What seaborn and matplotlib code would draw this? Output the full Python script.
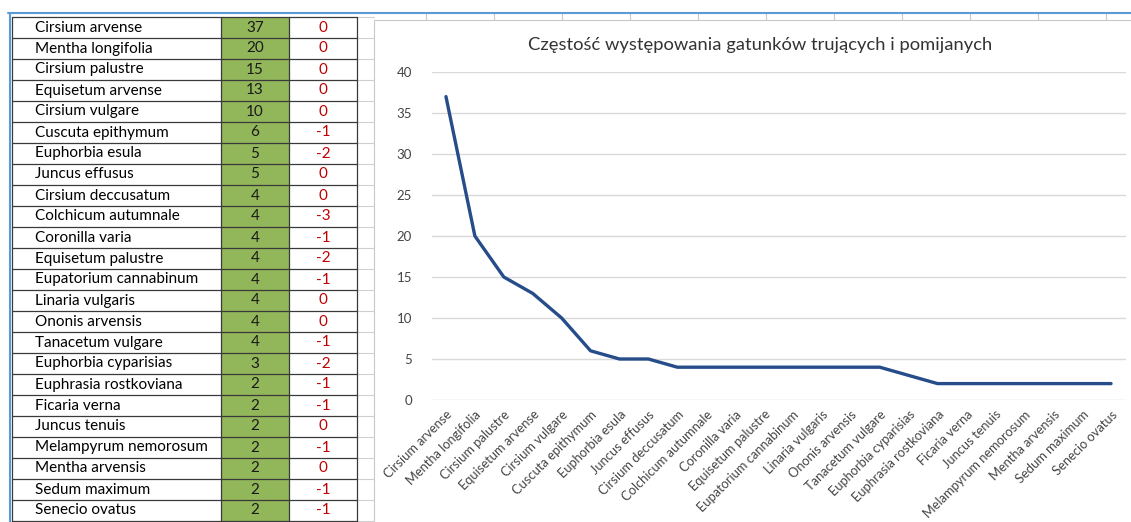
import numpy as np
import pandas as pd
import matplotlib.pyplot as plt
import seaborn as sns
from matplotlib.patches import Rectangle

# dane z arkusza
gatunki = ["Cirsium arvense", "Mentha longifolia", "Cirsium palustre", "Equisetum arvense",
           "Cirsium vulgare", "Cuscuta epithymum", "Euphorbia esula", "Juncus effusus",
           "Cirsium deccusatum", "Colchicum autumnale", "Coronilla varia", "Equisetum palustre",
           "Eupatorium cannabinum", "Linaria vulgaris", "Ononis arvensis", "Tanacetum vulgare",
           "Euphorbia cyparisias", "Euphrasia rostkoviana", "Ficaria verna", "Juncus tenuis",
           "Melampyrum nemorosum", "Mentha arvensis", "Sedum maximum", "Senecio ovatus"]
liczba = [37, 20, 15, 13, 10, 6, 5, 5, 4, 4, 4, 4, 4, 4, 4, 4, 3, 2, 2, 2, 2, 2, 2, 2]
wartosc = [0, 0, 0, 0, 0, -1, -2, 0, 0, -3, -1, -2, -1, 0, 0, -1, -2, -1, -1, 0, -1, 0, -1, -1]

sns.set_style("white")
plt.rcParams['font.family'] = ['Lato', 'DejaVu Sans']

W, H = 1131, 522
fig = plt.figure(figsize=(W / 100, H / 100), dpi=100)

# tlo arkusza (piksele)
bg = fig.add_axes([0, 0, 1, 1])
bg.set_xlim(0, W)
bg.set_ylim(H, 0)
bg.axis("off")

row_top = 17
row_h = 21.0
x_cols = [12, 221, 289, 357]

# linie arkusza nad wykresem i miedzy tabela a wykresem
for xc in np.arange(426, W, 68):
    bg.plot([xc, xc], [13, 20], color="#c8c8c8", lw=0.8)
for i in range(len(gatunki) + 1):
    y = row_top + i * row_h
    bg.plot([357, 374], [y, y], color="#d0d0d0", lw=0.8)

bg.plot([8, W], [13, 13], color="#5b9bd5", lw=1.5)
bg.plot([10, 10], [13, H], color="#5b9bd5", lw=1.5)

# tabela
for i, (g, n, v) in enumerate(zip(gatunki, liczba, wartosc)):
    y0 = row_top + i * row_h
    bg.add_patch(Rectangle((x_cols[1], y0), x_cols[2] - x_cols[1], row_h,
                           facecolor="#92b65a", edgecolor="none"))
    yc = y0 + row_h / 2
    bg.text(35, yc, g, fontsize=11, va="center", ha="left", color="#000000")
    bg.text(255, yc, str(n), fontsize=11, va="center", ha="center", color="#1a1a1a")
    bg.text(323, yc, str(v), fontsize=11, va="center", ha="center", color="#c00000")

for i in range(len(gatunki) + 1):
    y = row_top + i * row_h
    bg.plot([x_cols[0], x_cols[3]], [y, y], color="#3a3a3a", lw=0.9)
for xc in x_cols:
    bg.plot([xc, xc], [row_top, H], color="#3a3a3a", lw=0.9)

# ramka wykresu
bg.add_patch(Rectangle((374, 20), W - 374 + 5, H, facecolor="white",
                       edgecolor="#c8c8c8", lw=0.8))
bg.text(760, 45, "Częstość występowania gatunków trujących i pomijanych",
        fontsize=13.2, ha="center", va="center", color="#333333")

# wykres
df = pd.DataFrame({"gatunek": gatunki, "liczba": liczba})
ax = fig.add_axes([431.5 / W, 1 - 400 / H, 694 / W, 328 / H])
ax.patch.set_alpha(0)
sns.lineplot(data=df, x="gatunek", y="liczba", sort=False, color="#264c8a",
             linewidth=2.4, ax=ax)
ax.set_xlim(-0.5, len(gatunki) - 0.5)
ax.set_ylim(0, 40)
ax.set_yticks(range(0, 41, 5))
ax.yaxis.grid(True, color="#d9d9d9", lw=1)
ax.set_axisbelow(True)
for s in ax.spines.values():
    s.set_visible(False)
ax.set_xlabel("")
ax.set_ylabel("")
ax.tick_params(axis="y", length=0, pad=14, labelsize=9.5, labelcolor="#444444")
ax.tick_params(axis="x", length=0, pad=6, labelsize=9.3, labelcolor="#444444")
ax.set_xticks(range(len(gatunki)))
ax.set_xticklabels(gatunki, rotation=45, ha="right", rotation_mode="anchor")

fig.savefig("out.png", dpi=100)
